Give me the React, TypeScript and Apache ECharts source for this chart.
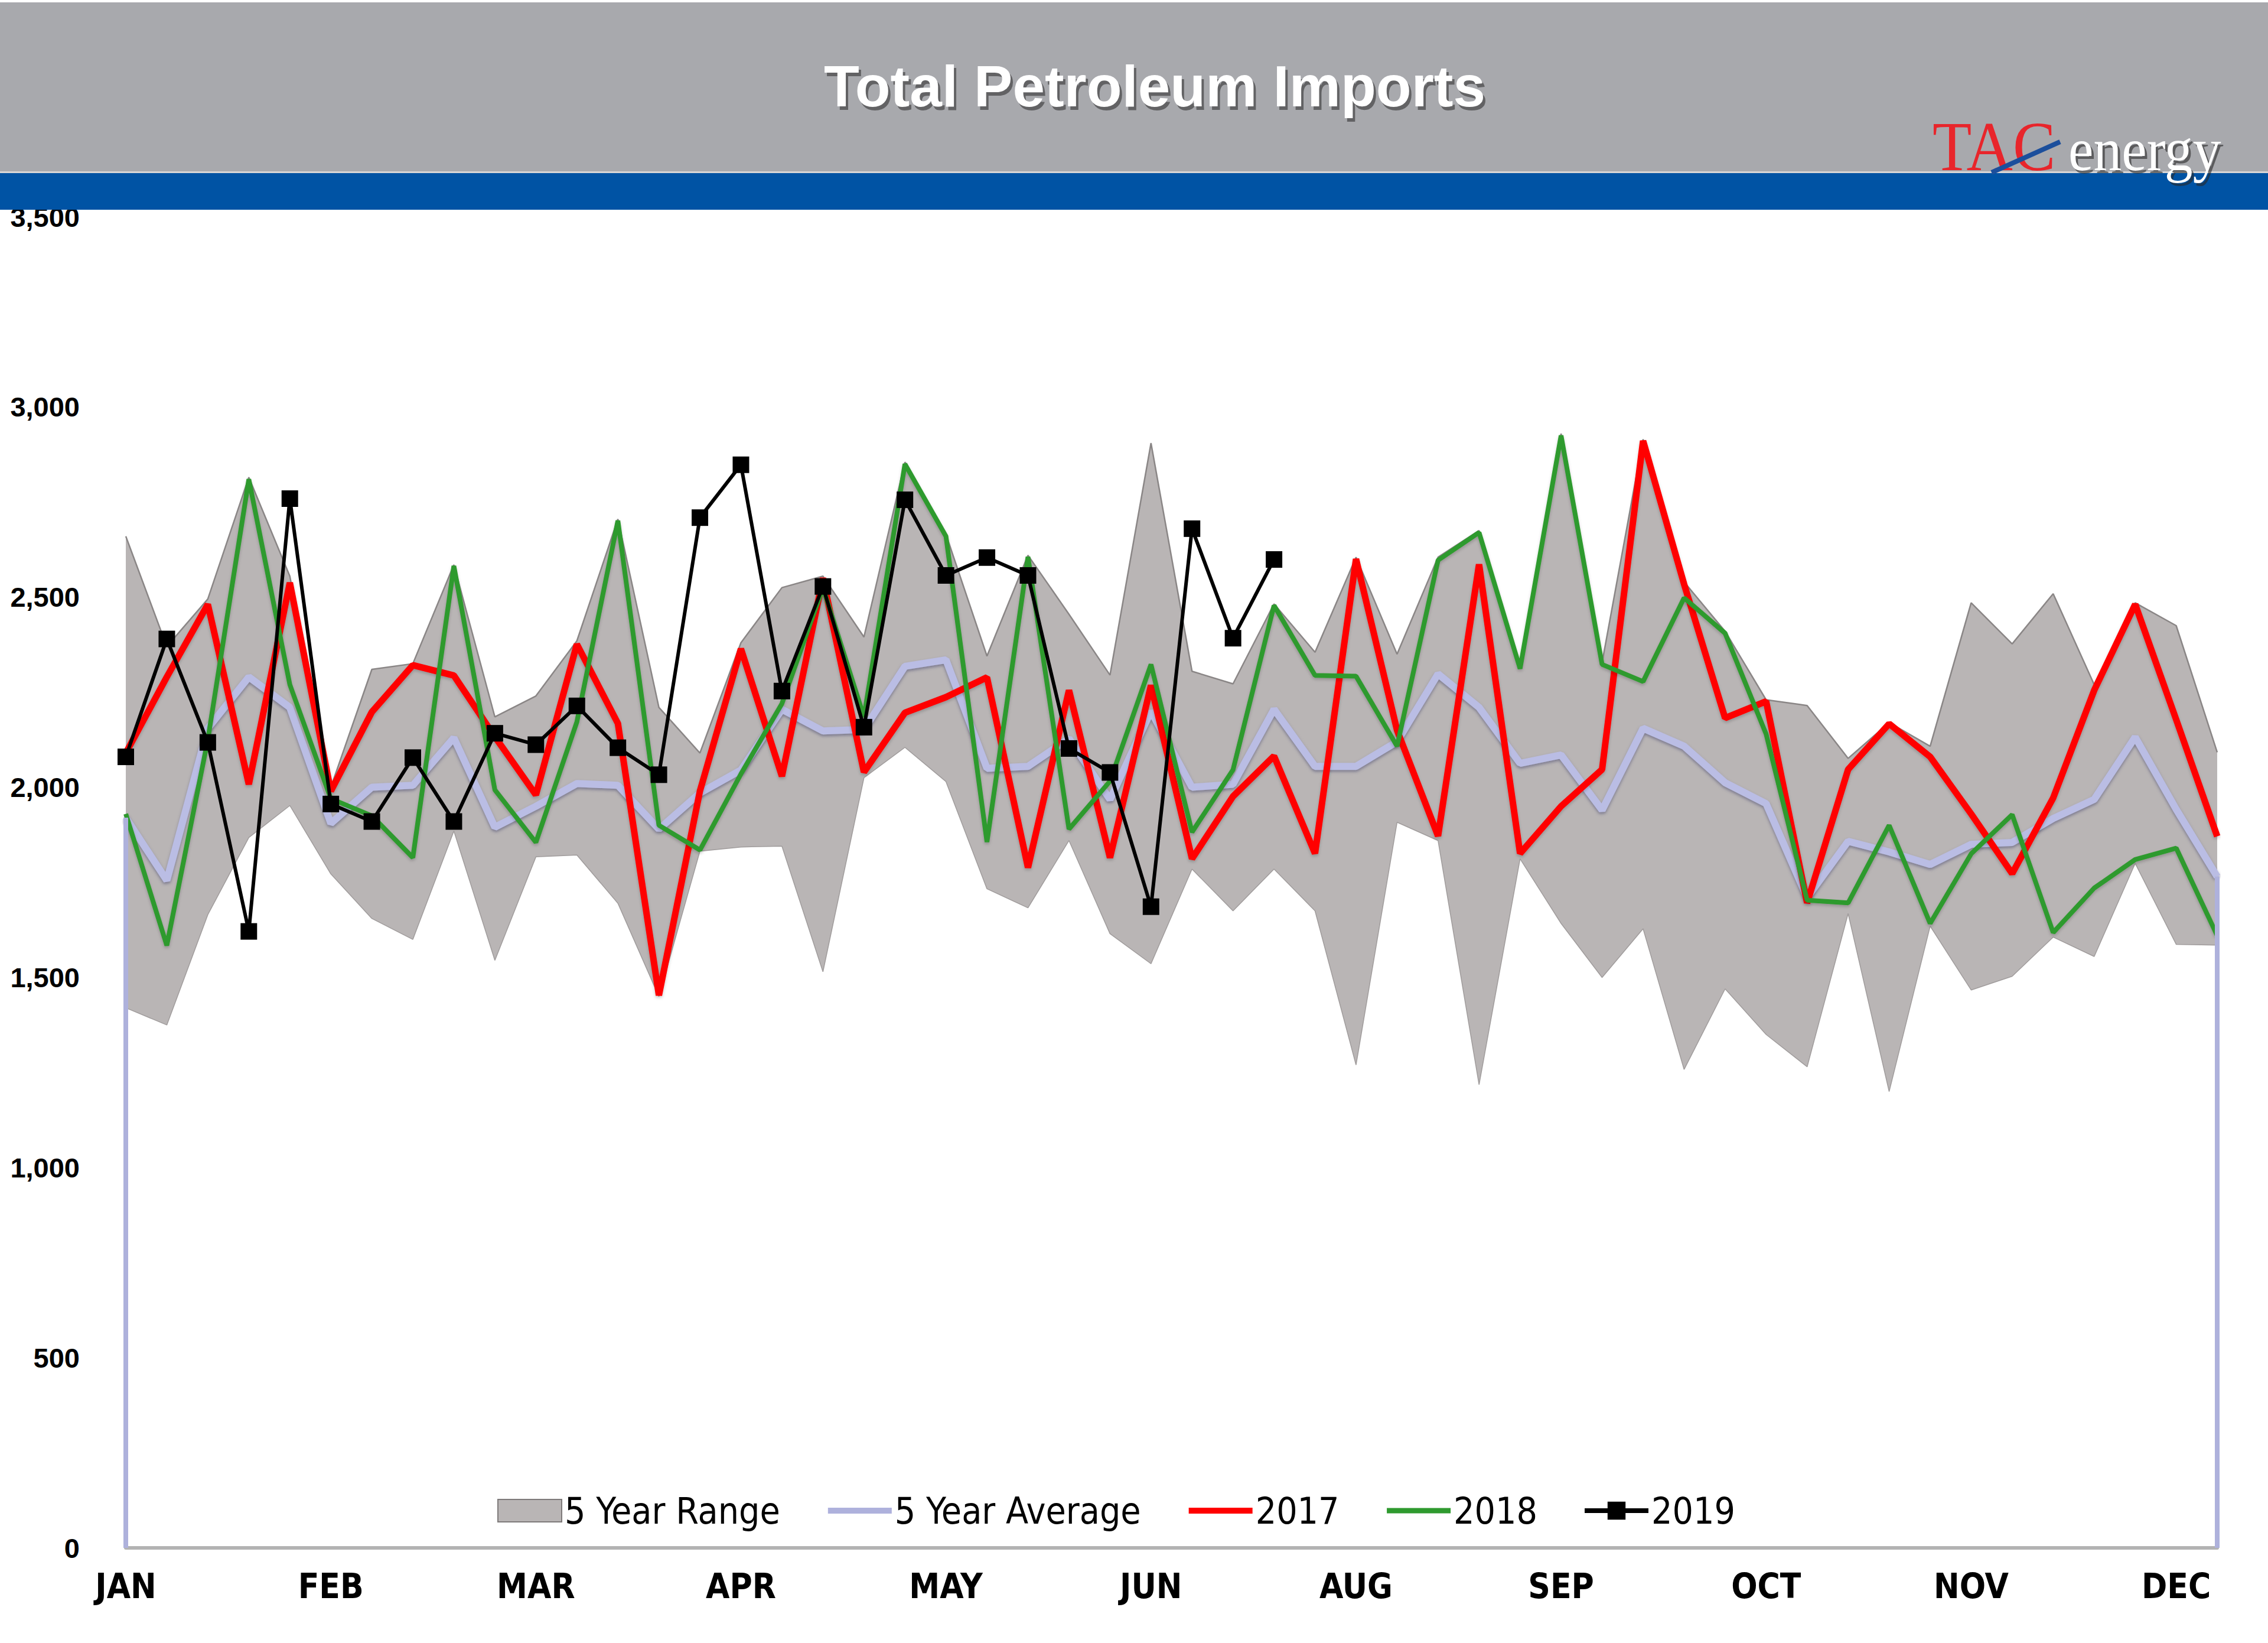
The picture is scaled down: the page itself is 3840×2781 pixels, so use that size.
import React, { useEffect, useRef } from 'react';
import * as echarts from 'echarts';

const weeks = ['1','2','3','4','5','6','7','8','9','10','11','12','13','14','15','16','17','18','19','20','21','22','23','24','25','26','27','28','29','30','31','32','33','34','35','36','37','38','39','40','41','42','43','44','45','46','47','48','49','50','51','52'];
const monthLabels = ['JAN','FEB','MAR','APR','MAY','JUN','AUG','SEP','OCT','NOV','DEC'];

const rangeMax = [2660,2370,2495,2815,2555,2000,2310,2325,2585,2185,2240,2385,2705,2210,2090,2380,2525,2555,2395,2855,2665,2345,2610,2455,2295,2905,2305,2272,2482,2355,2605,2350,2605,2675,2320,2930,2328,2915,2540,2410,2230,2215,2076,2170,2108,2485,2377,2509,2270,2485,2425,2092];
const rangeMin = [1420,1375,1665,1868,1952,1772,1655,1600,1885,1545,1817,1822,1695,1450,1832,1843,1845,1515,2025,2105,2015,1733,1683,1860,1615,1536,1785,1675,1785,1675,1270,1908,1860,1218,1812,1642,1500,1628,1258,1470,1350,1265,1668,1200,1635,1467,1503,1606,1555,1800,1587,1585];
const avg5 = [1920,1755,2155,2290,2210,1905,2000,2005,2130,1895,1950,2010,2005,1890,1985,2045,2205,2148,2152,2318,2335,2050,2055,2128,1968,2200,2000,2008,2205,2055,2055,2120,2298,2210,2063,2085,1940,2155,2108,2012,1957,1710,1858,1830,1797,1850,1855,1918,1968,2132,1942,1765];
const y2017 = [2090,2290,2481,2008,2538,1990,2198,2321,2294,2133,1980,2376,2168,1453,1990,2364,2029,2550,2040,2196,2237,2289,1789,2255,1815,2268,1812,1976,2082,1826,2600,2150,1872,2586,1826,1950,2047,2911,2534,2182,2226,1696,2047,2167,2080,1930,1773,1972,2255,2481,2178,1871];
const y2018 = [1930,1584,2125,2810,2270,1970,1925,1815,2582,1993,1855,2172,2701,1900,1835,2035,2220,2525,2185,2850,2660,1856,2606,1890,2016,2323,1882,2046,2478,2294,2292,2108,2597,2670,2312,2925,2323,2278,2498,2405,2140,1703,1696,1900,1642,1825,1928,1618,1735,1810,1840,1610];
const y2019 = [2080,2390,2118,1621,2759,1956,1910,2078,1910,2142,2112,2214,2104,2033,2709,2848,2253,2528,2158,2756,2557,2604,2557,2102,2039,1686,2680,2392,2599];

const NARROW = "'Liberation Sans Narrow', 'Arial Narrow', 'DejaVu Sans Condensed', sans-serif";
const SANS = "'Liberation Sans', Arial, sans-serif";
const SERIF = "'Liberation Serif', 'Times New Roman', serif";

const C_RANGE = '#B9B5B5';
const C_AVG = '#BABDE4';
const C_2017 = '#FF0000';
const C_2018 = '#2F9A2F';
const C_2019 = '#000000';

export default function App() {
  const ref = useRef<HTMLDivElement>(null);
  useEffect(() => {
    document.body.style.margin = '0';
    const chart = echarts.init(ref.current as HTMLDivElement, null, { renderer: 'svg' });
    const rangeSpan = rangeMax.map((v, i) => v - rangeMin[i]);
    const option: any = {
      animation: false,
      backgroundColor: '#FFFFFF',
      grid: { left: 213, right: 86, top: 367, bottom: 161, containLabel: false },
      xAxis: {
        type: 'category',
        data: weeks,
        boundaryGap: false,
        axisLine: { show: true, lineStyle: { color: '#B3B3B3', width: 6 } },
        axisTick: { show: false },
        axisLabel: {
          interval: 4,
          margin: 36,
          color: '#000',
          fontSize: 58,
          fontWeight: 'bold',
          fontFamily: NARROW,
          formatter: (v: string, idx: number) => (idx % 5 === 0 && monthLabels[idx / 5]) ? monthLabels[idx / 5] : '',
        },
        splitLine: { show: false },
      },
      yAxis: {
        type: 'value',
        min: 0,
        max: 3500,
        interval: 500,
        axisLine: { show: false },
        axisTick: { show: false },
        splitLine: { show: false },
        axisLabel: {
          margin: 78,
          color: '#000',
          fontSize: 47,
          fontWeight: 'bold',
          fontFamily: SANS,
          formatter: (v: number) => String(v).replace(/\B(?=(\d{3})+(?!\d))/g, ','),
        },
      },
      legend: {
        left: 842,
        top: 2526,
        padding: 0,
        itemWidth: 108,
        itemHeight: 38,
        itemGap: 76,
        textStyle: { fontSize: 62, fontFamily: NARROW, color: '#000' },
        data: [
          { name: '5 Year Range', icon: 'rect', itemStyle: { color: C_RANGE, borderColor: '#7E7A7A', borderWidth: 2 } },
          { name: '5 Year Average', itemStyle: { opacity: 0 }, lineStyle: { width: 10, color: '#AEB1DC' } },
          { name: '2017', itemStyle: { opacity: 0 }, lineStyle: { width: 10, color: C_2017 } },
          { name: '2018', itemStyle: { opacity: 0 }, lineStyle: { width: 9, color: C_2018 } },
          { name: '2019', lineStyle: { width: 8, color: C_2019 } },
        ],
      },
      graphic: [
        { type: 'rect', z: 100, shape: { x: 0, y: 4, width: 3840, height: 286 }, style: { fill: '#A8A9AD' } },
        { type: 'rect', z: 100, shape: { x: 0, y: 290, width: 3840, height: 3 }, style: { fill: '#D8D6D6' } },
        { type: 'rect', z: 100, shape: { x: 0, y: 293, width: 3840, height: 62 }, style: { fill: '#0053A4' } },
        { type: 'text', z: 101, x: 1959, y: 152, style: { text: 'Total Petroleum Imports', fill: 'rgba(40,40,40,0.55)', font: `bold 98px ${SANS}`, align: 'center', verticalAlign: 'middle' } },
        { type: 'text', z: 102, x: 1955, y: 146, style: { text: 'Total Petroleum Imports', fill: '#FFFFFF', font: `bold 98px ${SANS}`, align: 'center', verticalAlign: 'middle' } },
        { type: 'text', z: 102, x: 3272, y: 248, scaleX: 0.92, style: { text: 'TAC', fill: '#E8252B', font: `118px ${SERIF}`, align: 'left', verticalAlign: 'middle' } },
        { type: 'line', z: 103, shape: { x1: 3372, y1: 292, x2: 3488, y2: 240 }, style: { stroke: '#1C4F9C', lineWidth: 8 } },
        { type: 'text', z: 101, x: 3506, y: 258, scaleX: 0.92, style: { text: 'energy', fill: 'rgba(40,40,40,0.6)', font: `104px ${SERIF}`, align: 'left', verticalAlign: 'middle' } },
        { type: 'text', z: 102, x: 3502, y: 253, scaleX: 0.92, style: { text: 'energy', fill: '#FFFFFF', font: `104px ${SERIF}`, align: 'left', verticalAlign: 'middle' } },
      ],
      series: [
        {
          name: 'rangeBase',
          type: 'line',
          stack: 'range',
          data: rangeMin,
          symbol: 'none',
          silent: true,
          lineStyle: { color: '#A09C9C', width: 1.5 },
          z: 1,
        },
        {
          name: '5 Year Range',
          type: 'line',
          stack: 'range',
          data: rangeSpan,
          symbol: 'none',
          silent: true,
          itemStyle: { color: C_RANGE },
          lineStyle: { color: '#8A8686', width: 2.5 },
          areaStyle: { color: C_RANGE, opacity: 1 },
          z: 1,
        },
        {
          name: '5 Year Average',
          type: 'line',
          data: avg5,
          symbol: 'none',
          itemStyle: { color: C_AVG },
          lineStyle: { color: C_AVG, width: 12, shadowColor: 'rgba(70,70,110,0.55)', shadowBlur: 5, shadowOffsetY: 3 },
          z: 2,
          markLine: {
            silent: true,
            symbol: ['none', 'none'],
            label: { show: false },
            lineStyle: { color: '#AEB1DC', width: 8, type: 'solid' },
            data: [
              [{ coord: [weeks[0], 0] }, { coord: [weeks[0], avg5[0]] }],
              [{ coord: [weeks[weeks.length - 1], 0] }, { coord: [weeks[weeks.length - 1], avg5[avg5.length - 1]] }],
            ],
          },
        },
        {
          name: '2017',
          type: 'line',
          data: y2017,
          symbol: 'none',
          itemStyle: { color: C_2017 },
          lineStyle: { color: C_2017, width: 11, shadowColor: 'rgba(0,0,0,0.2)', shadowBlur: 5, shadowOffsetY: 3 },
          z: 3,
        },
        {
          name: '2018',
          type: 'line',
          data: y2018,
          symbol: 'none',
          itemStyle: { color: C_2018 },
          lineStyle: { color: C_2018, width: 8, shadowColor: 'rgba(0,0,0,0.2)', shadowBlur: 5, shadowOffsetY: 3 },
          z: 4,
        },
        {
          name: '2019',
          type: 'line',
          data: y2019,
          symbol: 'rect',
          symbolSize: 28,
          itemStyle: { color: C_2019 },
          lineStyle: { color: C_2019, width: 6 },
          z: 5,
        },
      ],
    };
    chart.setOption(option);
    return () => chart.dispose();
  }, []);
  return <div ref={ref} style={{ position: 'absolute', left: 0, top: 0, width: 3840, height: 2781 }} />;
}
